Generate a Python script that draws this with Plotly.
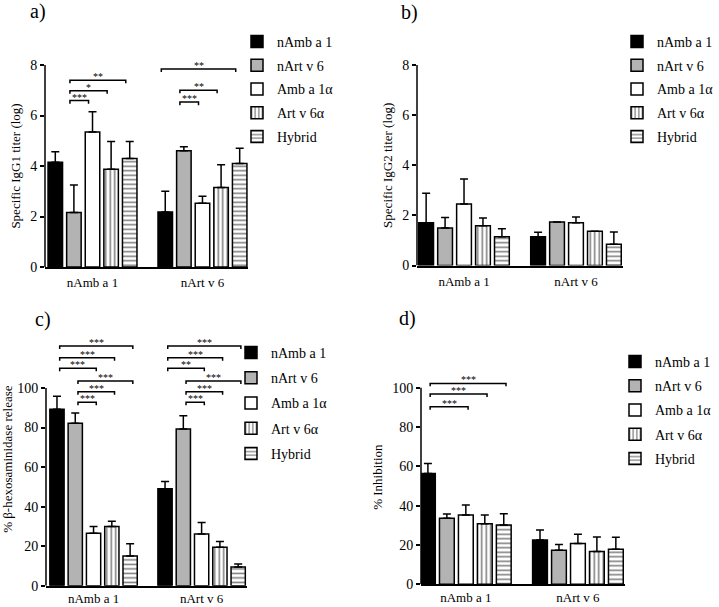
import plotly.graph_objects as go

# ---------------- data ----------------
categories = ["nAmb a 1", "nArt v 6"]
series_names = ["nAmb a 1", "nArt v 6", "Amb a 1α", "Art v 6α", "Hybrid"]

# a) Specific IgG1 titer (log): one list per series -> [nAmb a 1, nArt v 6]
igg1_means = [[4.15, 2.18], [2.16, 4.60], [5.35, 2.52], [3.87, 3.15], [4.30, 4.10]]
igg1_errors = [[0.41, 0.82], [1.09, 0.16], [0.80, 0.28], [1.10, 0.90], [0.67, 0.60]]

# b) Specific IgG2 titer (log)
igg2_means = [[1.71, 1.15], [1.50, 1.74], [2.45, 1.71], [1.59, 1.37], [1.15, 0.85]]
igg2_errors = [[1.17, 0.18], [0.42, 0.0], [1.00, 0.23], [0.31, 0.0], [0.32, 0.49]]

# c) % beta-hexosaminidase release
hexo_means = [[89.3, 49.1], [82.2, 79.2], [26.5, 26.2], [29.9, 19.4], [15.0, 9.4]]
hexo_errors = [[6.5, 3.6], [5.1, 6.8], [3.4, 5.8], [2.7, 3.0], [6.2, 1.6]]

# d) % Inhibition
inhib_means = [[56.4, 22.5], [33.6, 17.3], [35.3, 20.7], [30.8, 16.7], [30.2, 17.8]]
inhib_errors = [[5.1, 5.1], [2.2, 3.0], [5.0, 4.7], [4.5, 7.4], [5.7, 6.1]]

# significance tests: (group, first series, second series, bracket height, label)
igg1_tests = [(0, 1, 2, 6.59, "***"), (0, 1, 3, 6.98, "*"), (0, 1, 4, 7.40, "**"),
              (1, 1, 2, 6.53, "***"), (1, 1, 3, 7.00, "**"), (1, 0, 4, 7.84, "**")]
hexo_tests = [(0, 0, 4, 121.2, "***"), (0, 0, 3, 115.3, "***"), (0, 0, 2, 110.0, "***"),
              (0, 1, 4, 103.5, "***"), (0, 1, 3, 98.1, "***"), (0, 1, 2, 92.8, "***"),
              (1, 0, 4, 121.2, "***"), (1, 0, 3, 115.3, "***"), (1, 0, 2, 110.0, "**"),
              (1, 1, 4, 103.5, "***"), (1, 1, 3, 98.1, "***"), (1, 1, 2, 92.8, "***")]
inhib_tests = [(0, 0, 4, 102.2, "***"), (0, 0, 3, 96.8, "***"), (0, 0, 2, 90.3, "***")]

# ---------------- style ----------------
W, H = 719, 607
FONT = "Liberation Serif, Times New Roman, Times, serif"
fill_colors = ["black", "#b3b3b3", "white", "white", "white"]
patterns = ["", "", "", "|", "-"]
BARGAP = 0.154
BARGROUPGAP = 0.22
SLOT = (1 - BARGAP) / 5


def bar_center(g, i):
    return g + (i - 2) * SLOT


panels = [
    # pixel geometry: x0,x1 of axis; y pixel of value 0; pixels per unit; top of drawn range
    dict(key="", means=igg1_means, errs=igg1_errors, tests=igg1_tests,
         xpx=(45, 248), y0px=267, ppu=202 / 8, ytop=8.0, axis_top=8, standoff=3,
         xrange=[-0.432, 1.414], ticks=[0, 2, 4, 6, 8], title="Specific IgG1 titer (log)",
         drop=0.12, off=-0.036, leg=(237, 26), gap=2.5, label="a)", lab=(28, 12)),
    dict(key="2", means=igg2_means, errs=igg2_errors, tests=[],
         xpx=(417, 623), y0px=265.5, ppu=200.5 / 8, ytop=8.0, axis_top=8, standoff=3,
         xrange=[-0.42, 1.42], ticks=[0, 2, 4, 6, 8], title="Specific IgG2 titer (log)",
         drop=0.12, off=0.0, leg=(617, 26), gap=2.5, label="b)", lab=(399, 13)),
    dict(key="3", means=hexo_means, errs=hexo_errors, tests=hexo_tests,
         xpx=(46, 247), y0px=585.7, ppu=197.7 / 100, ytop=128.0, axis_top=100, standoff=0,
         xrange=[-0.44, 1.42], ticks=[0, 20, 40, 60, 80, 100], title="% β-hexosaminidase release",
         drop=1.5, off=0.025, leg=(231, 337), gap=4, label="c)", lab=(33, 319)),
    dict(key="4", means=inhib_means, errs=inhib_errors, tests=inhib_tests,
         xpx=(421, 625), y0px=584.3, ppu=196.6 / 100, ytop=109.0, axis_top=100, standoff=0,
         xrange=[-0.40, 1.42], ticks=[0, 20, 40, 60, 80, 100], title="% Inhibition",
         drop=1.5, off=0.02, leg=(615, 346), gap=3, label="d)", lab=(397, 318)),
]

fig = go.Figure()
annotations = []
shapes = []
layout = {}

for p in panels:
    k = p["key"]
    xa, ya = "x" + k, "y" + k
    legname = "legend" + k
    xdom = [p["xpx"][0] / W, p["xpx"][1] / W]
    top_px = p["y0px"] - p["ytop"] * p["ppu"]
    ydom = [1 - p["y0px"] / H, 1 - top_px / H]
    for i, name in enumerate(series_names):
        fig.add_trace(go.Bar(
            x=[0, 1], y=p["means"][i], name=name,
            xaxis=xa, yaxis=ya, legend=legname, legendgroup=legname + str(i),
            marker=dict(color=fill_colors[i], line=dict(color="black", width=1.5),
                        pattern=dict(shape=patterns[i], fgcolor="black", bgcolor=fill_colors[i],
                                     size=4.5, solidity=0.35)),
            error_y=dict(type="data", symmetric=False, array=p["errs"][i], arrayminus=[0, 0],
                         color="black", thickness=1.5, width=4),
        ))
    if p["tests"]:
        xs, ys = [], []
        for g, i0, i1, lvl, lab in p["tests"]:
            x0 = bar_center(g, i0) + p["off"]
            x1 = bar_center(g, i1) + p["off"]
            xs += [x0, x0, x1, x1, None]
            ys += [lvl - p["drop"], lvl, lvl, lvl - p["drop"], None]
            annotations.append(dict(x=(x0 + x1) / 2, y=lvl, xref=xa, yref=ya, text=lab,
                                    showarrow=False, yanchor="bottom", yshift=-3, borderpad=0,
                                    font=dict(family=FONT, size=10, color="black")))
        fig.add_trace(go.Scatter(x=xs, y=ys, mode="lines", xaxis=xa, yaxis=ya,
                                 line=dict(color="black", width=1.5), showlegend=False,
                                 hoverinfo="skip"))
    # the y axis line only spans the tick range (0 .. axis_top)
    shapes.append(dict(type="line", xref="paper", yref=ya, x0=xdom[0], x1=xdom[0],
                       y0=0, y1=p["axis_top"], line=dict(color="black", width=1.5)))
    layout["xaxis" + k] = dict(
        domain=xdom, anchor=ya, range=p["xrange"], tickvals=[0, 1], ticktext=categories,
        showline=True, linecolor="black", linewidth=1.5, ticks="", showgrid=False,
        zeroline=False, tickfont=dict(family=FONT, size=13, color="black"),
        ticklabelstandoff=p["standoff"], automargin=False)
    layout["yaxis" + k] = dict(
        domain=ydom, anchor=xa, range=[0, p["ytop"]], tickvals=p["ticks"],
        showline=False, ticks="outside", ticklen=4,
        tickwidth=1.5, tickcolor="black", showgrid=False, zeroline=False,
        tickfont=dict(family=FONT, size=14, color="black"), automargin=False,
        title=dict(text=p["title"], standoff=6, font=dict(family=FONT, size=13, color="black")))
    layout[legname] = dict(x=p["leg"][0] / W, y=1 - p["leg"][1] / H, xanchor="left", yanchor="top",
                           bgcolor="rgba(0,0,0,0)", tracegroupgap=p["gap"],
                           font=dict(family=FONT, size=14, color="black"))
    annotations.append(dict(x=p["lab"][0] / W, y=1 - p["lab"][1] / H, xref="paper", yref="paper",
                            text=p["label"], showarrow=False, xanchor="left", yanchor="middle",
                            font=dict(family=FONT, size=20, color="black")))

fig.update_layout(
    width=W, height=H, margin=dict(l=0, r=0, t=0, b=0, autoexpand=False),
    paper_bgcolor="white", plot_bgcolor="white",
    barmode="group", bargap=BARGAP, bargroupgap=BARGROUPGAP,
    font=dict(family=FONT, size=13, color="black"),
    annotations=annotations, shapes=shapes, showlegend=True,
    **layout,
)

fig.write_html("out.html", config={"displayModeBar": False},
               post_script="document.body.style.margin='0';")
